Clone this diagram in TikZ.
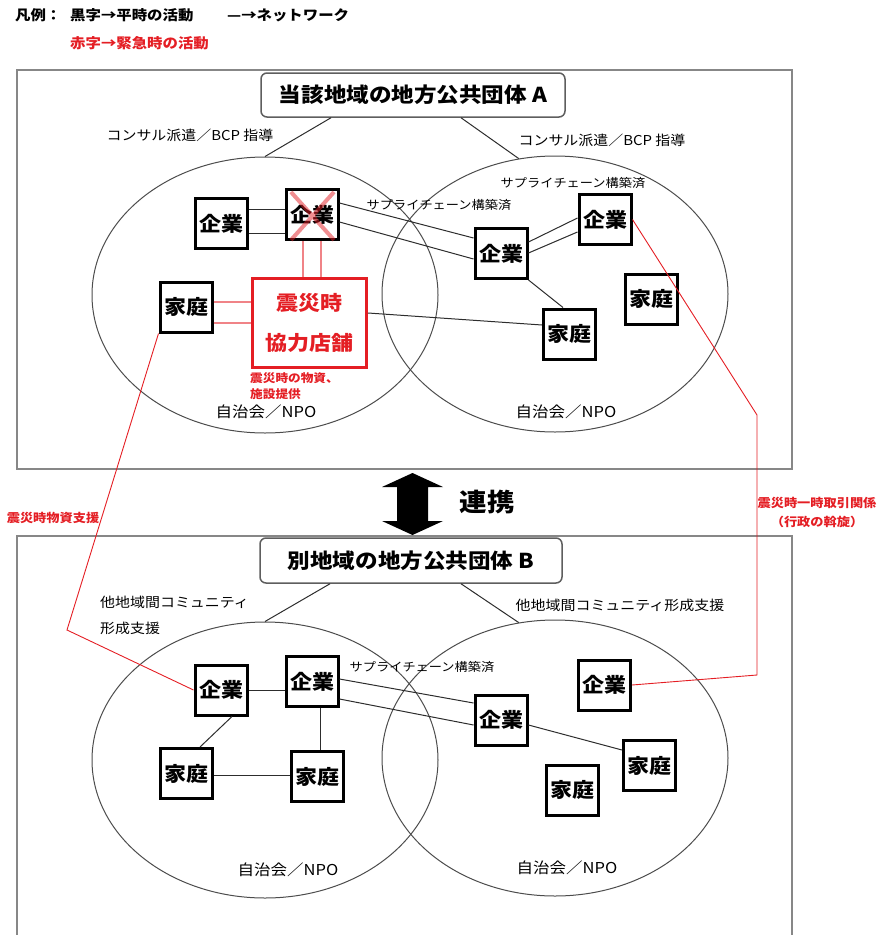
\documentclass[tikz,border=0pt]{standalone}
\usepackage{fontspec}
\setmainfont{Noto Sans CJK JP}[FakeStretch=1.1]
\usetikzlibrary{calc,shapes.geometric}
\definecolor{jred}{RGB}{228,30,36}
\definecolor{framec}{RGB}{135,135,135}
\definecolor{lnc}{RGB}{45,45,45}
\begin{document}
\begin{tikzpicture}[x=1pt,y=-1pt,
  box/.style={draw=black, line width=3pt, fill=white, minimum width=52pt, minimum height=50pt, inner sep=0pt, font=\fontsize{20}{24}\selectfont\bfseries},
  hdr/.style={draw=framec!70!black, line width=1.5pt, rounded corners=6pt, fill=white, inner sep=0pt, font=\fontsize{20.5}{24}\selectfont\bfseries},
  circ/.style={ellipse, draw=lnc!85, line width=1pt, minimum width=346pt, minimum height=276pt, inner sep=0pt},
  fr/.style={draw=framec, line width=2pt},
  ln/.style={draw=lnc, line width=1pt},
  pk/.style={draw=jred!55, line width=1.2pt},
  rd/.style={draw=jred, line width=0.9pt},
  lab/.style={inner sep=0pt, font=\fontsize{13.6}{16}\selectfont},
  sc/.style={inner sep=0pt, font=\fontsize{12}{14}\selectfont},
  lg/.style={inner sep=0pt, font=\fontsize{14}{16}\selectfont\bfseries},
  npo/.style={inner sep=0pt, font=\fontsize{15}{18}\selectfont},
  rl/.style={inner sep=0pt, text=jred, font=\fontsize{12}{14}\selectfont\bfseries}]
\useasboundingbox (0,0) rectangle (879,935);

% legend
\node[lg, anchor=west] (lg0) at (15,15) {凡例：};
\node[lg, anchor=west] (lg1) at (70,15) {黒字→平時の活動};
\node[lg, anchor=west] (lg2) at (227,15) {—→ネットワーク};
\node[lg, anchor=west, text=jred] (lg3) at (70,43) {赤字→緊急時の活動};

% frames
\draw[fr] (17,70) rectangle (792,469);
\draw[fr] (17,945) -- (17,536) -- (792,536) -- (792,945);

% ellipses
\node[circ] (cTL) at (265,295) {};
\node[circ] (cTR) at (555,294) {};
\node[circ] (cBL) at (265,760) {};
\node[circ] (cBR) at (555,758) {};

% headers
\node[hdr, minimum width=304pt, minimum height=44pt] (A) at (413,95) {当該地域の地方公共団体 A};
\node[hdr, minimum width=302pt, minimum height=45pt] (B) at (411,560.5) {別地域の地方公共団体 B};
\draw[ln] (A.south -| 331,0) -- (cTL.north);
\draw[ln] (A.south -| 461,0) -- (cTR.105);
\draw[ln] (B.south -| 330,0) -- (cBL.north);
\draw[ln] (B.south -| 461,0) -- (cBR.105);

% top labels
\node[lab] (tl1) at (190,135) {コンサル派遣／BCP 指導};
\node[lab] (tl2) at (602,140) {コンサル派遣／BCP 指導};
\node[sc] (sc1) at (439,205) {サプライチェーン構築済};
\node[sc] (sc2) at (573,183) {サプライチェーン構築済};
\node[npo] (n1) at (266,412) {自治会／NPO};
\node[npo] (n2) at (566,412) {自治会／NPO};

% top nodes
\node[box] (kL) at (221.5,223.5) {企業};
\node[box] (kX) at (312,214.5) {企業};
\node[box] (kM) at (501,253.5) {企業};
\node[box] (kR) at (605,219.5) {企業};
\node[box] (hL) at (186,307) {家庭};
\node[box] (hM) at (569.5,334) {家庭};
\node[box] (hR) at (651,299) {家庭};
\node[draw=jred, line width=3pt, fill=white, minimum width=114pt, minimum height=89pt, inner sep=0pt, align=center, text=jred, font=\fontsize{20}{40}\selectfont\bfseries] (shop) at (309.5,323) {震災時\\協力店舗};
\node[rl, anchor=west, font=\fontsize{11.5}{14}\selectfont\bfseries] (r1) at (250,378) {震災時の物資、};
\node[rl, anchor=west, font=\fontsize{11.5}{14}\selectfont\bfseries] (r2) at (250,394) {施設提供};

% top connectors
\draw[ln] (kL.east |- 0,209) -- (kX.west |- 0,209);
\draw[ln] (kL.east |- 0,233) -- (kX.west |- 0,233);
\draw[ln] (kX.east |- 0,203) -- (kM.west |- 0,238);
\draw[ln] (kX.east |- 0,222) -- (kM.west |- 0,259);
\draw[pk] (kX.south -| 303,0) -- (shop.north -| 303,0);
\draw[pk] (kX.south -| 321,0) -- (shop.north -| 321,0);
\draw[pk] (hL.east |- 0,302) -- (shop.west |- 0,302);
\draw[pk] (hL.east |- 0,323) -- (shop.west |- 0,323);
\draw[ln] (shop.east |- 0,313) -- (hM.west |- 0,325);
\draw[ln] (kM.east |- 0,242) -- (kR.west |- 0,218);
\draw[ln] (kM.east |- 0,253) -- (kR.west |- 0,232);
\draw[ln] (kM.south east) -- (hM.north -| 563,0);

% cross on failed company
\draw[jred, opacity=0.5, line width=4pt] (291,192) -- (334,240) (334,192) -- (291,240);

% middle
\fill[black] (412.5,473) -- (443,487) -- (428,487) -- (428,521) -- (443,521) -- (412.5,535) -- (382,521) -- (397,521) -- (397,487) -- (382,487) -- cycle;
\node[inner sep=0pt, font=\fontsize{25}{28}\selectfont\bfseries] (ren) at (487,502) {連携};
\node[rl] (r3) at (53,518) {震災時物資支援};
\node[rl] (r4) at (817,503) {震災時一時取引関係};
\node[rl] (r5) at (817,522) {（行政の斡旋）};

% bottom labels
\node[lab, anchor=west] (bl1) at (100,602) {他地域間コミュニティ};
\node[lab, anchor=west] (bl2) at (100,628) {形成支援};
\node[lab] (bl3) at (620,605) {他地域間コミュニティ形成支援};
\node[sc] (sc3) at (422,667) {サプライチェーン構築済};
\node[npo] (n3) at (288,870) {自治会／NPO};
\node[npo] (n4) at (567,868) {自治会／NPO};

% bottom nodes
\node[box] (BkL) at (221,690) {企業};
\node[box] (BkM) at (312,681.5) {企業};
\node[box] (BkC) at (501,720) {企業};
\node[box] (BkR) at (604.5,685) {企業};
\node[box] (BhL) at (186.5,773.5) {家庭};
\node[box] (BhM) at (317.5,776.5) {家庭};
\node[box] (BhR1) at (572,790) {家庭};
\node[box] (BhR2) at (649.5,765.5) {家庭};

% bottom connectors
\draw[ln] (BkL.east) -- (BkM.west |- BkL.east);
\draw[ln] (BkM.east |- 0,679) -- (BkC.west |- 0,703);
\draw[ln] (BkM.east |- 0,699) -- (BkC.west |- 0,725);
\draw[ln] (BkC.east |- 0,725) -- (BhR2.west |- 0,750);
\draw[ln] (BkL.south -| 232,0) -- (BhL.north -| 200,0);
\draw[ln] (BkM.south -| 320,0) -- (BhM.north -| 320,0);
\draw[ln] (BhL.east |- 0,775) -- (BhM.west |- 0,775);

% red emergency links
\draw[rd] (hL.south west) -- (67,630) -- (BkL.west);
\draw[rd] (kR.east) -- (757,415) -- (757,675) -- (BkR.east);
\end{tikzpicture}
\end{document}
